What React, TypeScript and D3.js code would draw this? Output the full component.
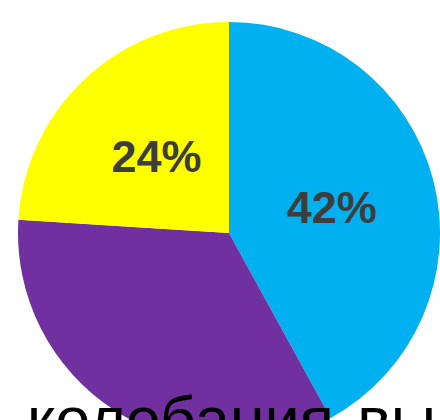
import {useEffect, useRef} from 'react';
import * as d3 from 'd3';

// data
const categories = ['A', 'B', 'C'];
const values = [42, 34, 24];
const colors = ['#00B0F0', '#7030A0', '#FFFF00'];
const labels = ['42%', '', '24%'];
const caption = 'колебания вы';

// parameters
const width = 440;
const height = 420;
const cx = 229;
const cy = 233;
const radius = 211;
const labelRadius = 106;

type Slice = { name: string, value: number, color: string, label: string };

export default function App() {
  const ref = useRef<SVGSVGElement>(null);
  useEffect(() => {
    if (!ref.current)
      return;
    const svg = d3.select(ref.current);
    svg.selectAll('*').remove();

    const data: Slice[] = categories.map((c, i) => ({
      name: c, value: values[i], color: colors[i], label: labels[i]
    }));

    const pie = d3.pie<Slice>().sort(null).value(d => d.value);
    const arc = d3.arc<d3.PieArcDatum<Slice>>().innerRadius(0).outerRadius(radius);
    const labelArc = d3.arc<d3.PieArcDatum<Slice>>().innerRadius(labelRadius).outerRadius(labelRadius);

    const g = svg.append('g').attr('transform', `translate(${cx},${cy})`);
    const arcs = pie(data);

    // slices
    g.selectAll('path.slice')
      .data(arcs)
      .enter()
      .append('path')
      .classed('slice', true)
      .attr('d', arc)
      .attr('fill', d => d.data.color);

    // percent labels
    g.selectAll('text.label')
      .data(arcs.filter(d => d.data.label))
      .enter()
      .append('text')
      .classed('label', true)
      .attr('transform', d => {
        const [x, y] = labelArc.centroid(d);
        return `translate(${x},${y})`;
      })
      .attr('text-anchor', 'middle')
      .attr('dy', '0.36em')
      .style('font-family', '"Liberation Sans", Arial, sans-serif')
      .style('font-weight', 'bold')
      .style('font-size', '45px')
      .style('fill', '#3d3d3d')
      .text(d => d.data.label);

    // caption cut off at the bottom, as in the source slide
    svg.append('text')
      .attr('x', 27)
      .attr('y', 441)
      .style('font-family', '"Liberation Sans", Arial, sans-serif')
      .style('font-size', '63px')
      .style('word-spacing', '6px')
      .style('fill', '#000')
      .text(caption);
  }, [ref]);
  return <svg
    ref={ref}
    width={width}
    height={height}
    style={{position: 'absolute', left: 0, top: 0, background: '#fff'}}
  />;
}
